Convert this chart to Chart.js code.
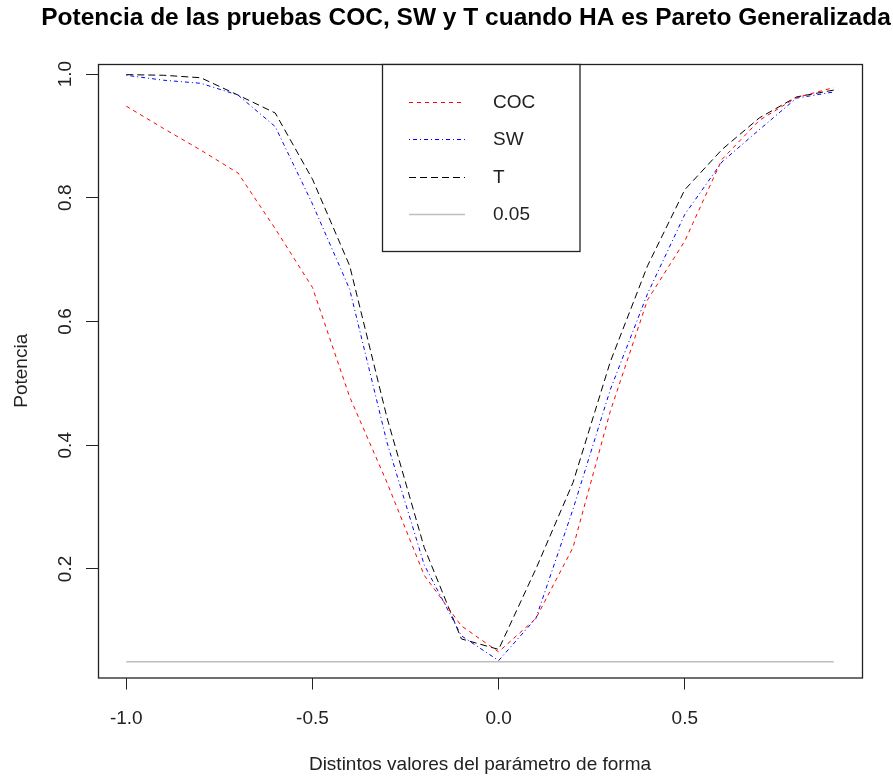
<!DOCTYPE html>
<html>
<head>
<meta charset="utf-8">
<script src="https://cdn.jsdelivr.net/npm/chart.js@4/dist/chart.umd.min.js"></script>
<style>
html,body{margin:0;padding:0;background:#fff;}
#wrap{width:893px;height:776px;}
</style>
</head>
<body>
<div id="wrap"><canvas id="c" width="893" height="776"></canvas></div>
<script>
const xValues = [-1.0,-0.9,-0.8,-0.7,-0.6,-0.5,-0.4,-0.3,-0.2,-0.1,0.0,0.1,0.2,0.3,0.4,0.5,0.6,0.7,0.8,0.9];
const cocValues = [0.948,0.912,0.877,0.840,0.750,0.655,0.478,0.340,0.190,0.108,0.066,0.120,0.235,0.455,0.635,0.730,0.862,0.925,0.962,0.978];
const swValues  = [0.998,0.990,0.985,0.966,0.915,0.790,0.652,0.405,0.207,0.092,0.052,0.120,0.297,0.490,0.645,0.773,0.858,0.910,0.961,0.971];
const tValues   = [0.999,0.998,0.994,0.966,0.937,0.830,0.690,0.445,0.235,0.087,0.070,0.200,0.340,0.535,0.690,0.813,0.878,0.929,0.963,0.974];
const refValues = [0.05,0.05,0.05,0.05,0.05,0.05,0.05,0.05,0.05,0.05,0.05,0.05,0.05,0.05,0.05,0.05,0.05,0.05,0.05,0.05];
const seriesLabels = ['COC','SW','T','0.05'];
const xTickValues = [-1.0,-0.5,0.0,0.5];
const yTickValues = [0.2,0.4,0.6,0.8,1.0];
const titleText = 'Potencia de las pruebas COC, SW y T cuando HA es Pareto Generalizada';
const xTitle = 'Distintos valores del parámetro de forma';
const yTitle = 'Potencia';

const FONT = "'Liberation Sans', Arial, sans-serif";
const pts = arr => xValues.map((x,i)=>({x:x,y:arr[i]}));

const boxPlugin = {
  id:'boxPlugin',
  afterDraw(chart){
    const {ctx, chartArea:a} = chart;
    ctx.save();
    ctx.strokeStyle = '#222';
    ctx.lineWidth = 1.3;
    ctx.strokeRect(a.left+0.5, a.top+0.5, a.right-a.left, a.bottom-a.top);
    // title
    ctx.fillStyle = '#000';
    ctx.font = "bold 24.5px " + FONT;
    ctx.textAlign = 'center';
    ctx.textBaseline = 'middle';
    ctx.fillText(titleText, 466, 18);
    // legend
    const lx = 382.5, ly = a.top+0.5, lw = 197.5, lh = 187;
    ctx.fillStyle = '#fff';
    ctx.fillRect(lx, ly, lw, lh);
    ctx.strokeStyle = '#222';
    ctx.lineWidth = 1.3;
    ctx.strokeRect(lx, ly, lw, lh);
    ctx.font = "19px " + FONT;
    ctx.textAlign = 'left';
    chart.data.datasets.forEach((ds,i)=>{
      const y = 101.5 + i*37.5;
      ctx.beginPath();
      ctx.setLineDash(ds.borderDash || []);
      ctx.strokeStyle = ds.borderColor;
      ctx.lineWidth = ds.borderWidth;
      ctx.moveTo(409, Math.round(y)+0.5);
      ctx.lineTo(465, Math.round(y)+0.5);
      ctx.stroke();
      ctx.setLineDash([]);
      ctx.fillStyle = '#222';
      ctx.fillText(ds.label, 493, y+1);
    });
    ctx.restore();
  }
};

new Chart(document.getElementById('c'), {
  type:'line',
  data:{
    datasets:[
      {label:seriesLabels[0], data:pts(cocValues), borderColor:'#FF0000', borderWidth:1, borderDash:[4,4]},
      {label:seriesLabels[1], data:pts(swValues), borderColor:'#0000FF', borderWidth:1, borderDash:[1,3,4,3]},
      {label:seriesLabels[2], data:pts(tValues), borderColor:'#000000', borderWidth:1, borderDash:[7,4]},
      {label:seriesLabels[3], data:pts(refValues), borderColor:'#BEBEBE', borderWidth:1.5}
    ]
  },
  options:{
    responsive:false,
    animation:false,
    devicePixelRatio:1,
    layout:{padding:{top:64,right:31,bottom:0,left:0}},
    elements:{point:{radius:0}, line:{tension:0, fill:false}},
    plugins:{legend:{display:false}, title:{display:false}, tooltip:{enabled:false}},
    scales:{
      x:{
        type:'linear', min:-1.076, max:0.976,
        afterBuildTicks:s=>{s.ticks = xTickValues.map(v=>({value:v}));},
        afterFit:s=>{s.height = 98.5;},
        grid:{display:true, drawOnChartArea:false, drawTicks:true, tickLength:12, color:'#222', lineWidth:1},
        border:{display:false},
        ticks:{color:'#222', font:{family:FONT, size:19}, padding:18, maxRotation:0, autoSkip:false,
               callback:v=>Number(v).toFixed(1)},
        title:{display:true, text:xTitle, color:'#222', font:{family:FONT, size:19}, padding:{top:0,bottom:0}}
      },
      y:{
        type:'linear', min:0.0246, max:1.0162,
        afterBuildTicks:s=>{s.ticks = yTickValues.map(v=>({value:v}));},
        afterFit:s=>{s.width = 98;},
        grid:{display:true, drawOnChartArea:false, drawTicks:true, tickLength:12, color:'#222', lineWidth:1},
        border:{display:false},
        ticks:{color:'#222', font:{family:FONT, size:19}, padding:7, minRotation:90, maxRotation:90, crossAlign:'center', autoSkip:false,
               callback:v=>Number(v).toFixed(1)},
        title:{display:true, text:yTitle, color:'#222', font:{family:FONT, size:19}, padding:{top:10,bottom:0}}
      }
    }
  },
  plugins:[boxPlugin]
});
</script>
</body>
</html>
